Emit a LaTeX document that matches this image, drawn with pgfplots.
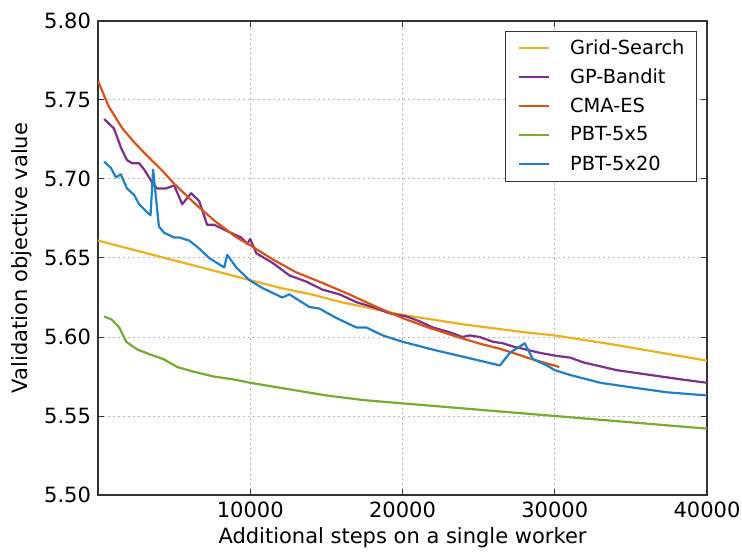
\documentclass[border=0pt]{standalone}
\usepackage{fontspec}
\setmainfont{DejaVu Sans}
\usepackage{pgfplots}
\pgfplotsset{compat=1.18}
\definecolor{gsyellow}{HTML}{EDB120}
\definecolor{gppurple}{HTML}{7E2F8E}
\definecolor{cmared}{HTML}{D95319}
\definecolor{pbtgreen}{HTML}{77AC30}
\definecolor{pbtblue}{HTML}{1F80C8}

\begin{document}
\begin{tikzpicture}
  \begin{axis}[
      name=ax,
      scale only axis,
      width=304.5pt, height=237pt,
      xmin=0, xmax=40000,
      ymin=5.50, ymax=5.80,
      xtick={10000,20000,30000,40000},
      ytick={5.50,5.55,5.60,5.65,5.70,5.75,5.80},
      scaled x ticks=false,
      xticklabel style={/pgf/number format/.cd, 1000 sep={}},
      yticklabel style={/pgf/number format/.cd, fixed, fixed zerofill, precision=2},
      /pgf/number format/assume math mode=true,
      tick label style={font=\fontsize{10.5}{12}\selectfont},
      label style={font=\fontsize{10.5}{12}\selectfont},
      xlabel={Additional steps on a single worker},
      ylabel={Validation objective value},
      xlabel style={at={(rel axis cs:0.5,0)}, anchor=center, yshift=-21.5pt},
      % the label is rotated, so yshift moves it to the left
      ylabel style={at={(rel axis cs:0,0.5)}, anchor=center, yshift=38pt},
      tick pos=both,
      tick align=inside,
      major tick length=3pt,
      tick style={black!80, line width=0.5pt},
      axis line style={black!80, line width=0.7pt},
      grid=major,
      grid style={gray!55, line width=0.5pt, dash pattern=on 1pt off 1.5pt},
      legend cell align=left,
      legend image code/.code={\draw[#1] (0pt,0pt) -- (15pt,0pt); \path (25pt,0pt);},
      legend style={at={(1,1)}, xshift=-5pt, yshift=-5pt, anchor=north east,
        draw=black!80, line width=0.5pt, font=\fontsize{9.7}{12}\selectfont,
        inner xsep=6pt, inner ysep=1.2pt, row sep=0pt,
        nodes={inner xsep=0pt, inner ysep=0pt, minimum height=14.5pt}},
      every axis plot/.append style={line width=1.1pt, line join=round},
    ]
    \addplot[gsyellow] coordinates {
      (0,5.661) (2000,5.656) (4000,5.651) (6000,5.646) (8000,5.641)
      (10000,5.636) (12000,5.631) (14000,5.627) (16000,5.622) (18000,5.618)
      (20000,5.614) (24000,5.608) (28000,5.603) (30000,5.601) (34000,5.595)
      (40000,5.585)
    };
    \addlegendentry{Grid-Search}
    \addplot[gppurple] coordinates {
      (400,5.738) (720,5.735) (1050,5.732) (1500,5.720) (1900,5.712)
      (2240,5.710) (2700,5.710) (3030,5.706) (3550,5.698) (3880,5.694)
      (4470,5.694) (5000,5.696) (5530,5.684) (6120,5.691) (6650,5.686)
      (7170,5.671) (7630,5.671) (8490,5.667) (9400,5.663) (9800,5.659)
      (10000,5.662) (10400,5.653) (11450,5.647) (12570,5.639) (13700,5.635)
      (14740,5.630) (15860,5.627) (16980,5.622) (18030,5.619) (19150,5.615)
      (20270,5.613) (21100,5.610) (22000,5.606) (23100,5.603) (23950,5.600)
      (24400,5.601) (25070,5.600) (25930,5.597) (26600,5.596) (27250,5.594)
      (28150,5.592) (29000,5.590) (30130,5.588) (31000,5.587) (31850,5.584)
      (34080,5.579) (36250,5.576) (38430,5.573) (40000,5.571)
    };
    \addlegendentry{GP-Bandit}
    \addplot[cmared] coordinates {
      (0,5.762) (700,5.746) (1600,5.732) (2400,5.723) (3200,5.715)
      (4150,5.706) (5000,5.697) (6300,5.685) (7600,5.674) (9100,5.663)
      (10000,5.658) (11500,5.649) (13000,5.641) (14800,5.634) (16500,5.627)
      (18300,5.619) (20000,5.612) (21700,5.606) (23300,5.601) (25000,5.596)
      (26600,5.592) (28500,5.586) (30300,5.581)
    };
    \addlegendentry{CMA-ES}
    \addplot[pbtgreen] coordinates {
      (400,5.613) (900,5.611) (1400,5.606) (1850,5.597) (2600,5.592)
      (3400,5.589) (4300,5.586) (5200,5.581) (6300,5.578) (7600,5.575)
      (9000,5.573) (10000,5.571) (12500,5.567) (15000,5.563) (17500,5.560)
      (20000,5.558) (25000,5.554) (30000,5.550) (35000,5.546) (40000,5.542)
    };
    \addlegendentry{PBT-5x5}
    \addplot[pbtblue] coordinates {
      (400,5.711) (850,5.707) (1180,5.701) (1500,5.703) (1900,5.694)
      (2370,5.690) (2700,5.684) (3220,5.679) (3450,5.677) (3620,5.706)
      (4000,5.670) (4340,5.666) (5000,5.663) (5330,5.663) (6000,5.661)
      (6650,5.656) (7300,5.650) (7960,5.646) (8290,5.644) (8490,5.652)
      (9080,5.644) (9940,5.636) (10800,5.631) (12100,5.625) (12570,5.627)
      (13880,5.619) (14540,5.618) (15660,5.612) (16980,5.606) (17630,5.606)
      (18700,5.601) (20000,5.597) (22000,5.592) (24200,5.587) (26400,5.582)
      (27050,5.590) (28030,5.596) (28560,5.586) (29480,5.582) (30000,5.579)
      (31000,5.576) (33000,5.571) (35140,5.568) (37370,5.565) (40000,5.563)
    };
    \addlegendentry{PBT-5x20}
  \end{axis}
  \pgfresetboundingbox
  \useasboundingbox ([xshift=-49pt,yshift=-28pt]ax.south west)
    rectangle ([xshift=17.5pt,yshift=10.5pt]ax.north east);
\end{tikzpicture}
\end{document}
